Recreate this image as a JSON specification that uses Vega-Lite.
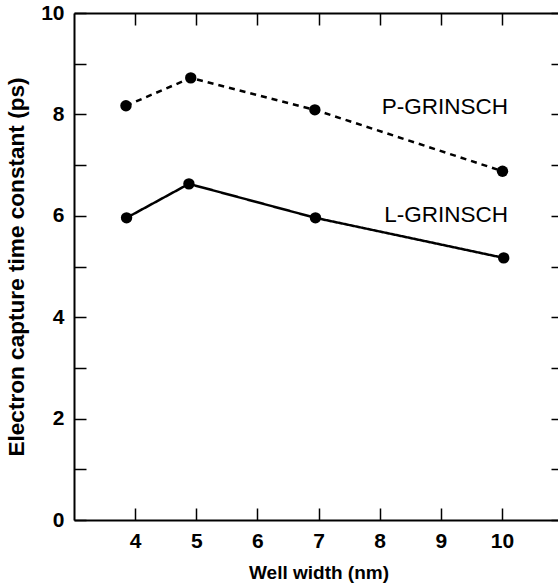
{
  "$schema": "https://vega.github.io/schema/vega-lite/v6.json",
  "width": 489,
  "height": 507,
  "autosize": "none",
  "padding": {"left": 74, "top": 13, "right": 0, "bottom": 67},
  "background": "white",
  "config": {
    "view": {"stroke": null},
    "font": "Liberation Sans",
    "axis": {
      "domainColor": "black",
      "domainWidth": 2,
      "tickColor": "black",
      "tickWidth": 1.5,
      "tickSize": -12,
      "grid": false,
      "labelFont": "Liberation Sans",
      "labelFontSize": 21,
      "labelColor": "black",
      "labelFontWeight": "bold",
      "titleFont": "Liberation Sans",
      "titleColor": "black",
      "titleFontWeight": "bold"
    }
  },
  "datasets": {
    "pts": [
      {"series": "P-GRINSCH", "width": 3.85, "tau": 8.17},
      {"series": "P-GRINSCH", "width": 4.91, "tau": 8.72},
      {"series": "P-GRINSCH", "width": 6.94, "tau": 8.09},
      {"series": "P-GRINSCH", "width": 10.01, "tau": 6.88},
      {"series": "L-GRINSCH", "width": 3.86, "tau": 5.96},
      {"series": "L-GRINSCH", "width": 4.88, "tau": 6.63},
      {"series": "L-GRINSCH", "width": 6.95, "tau": 5.96},
      {"series": "L-GRINSCH", "width": 10.03, "tau": 5.17}
    ],
    "labels": [
      {"name": "P-GRINSCH", "width": 10.1, "tau": 8.15},
      {"name": "L-GRINSCH", "width": 10.1, "tau": 6.02}
    ]
  },
  "resolve": {"axis": {"x": "independent", "y": "independent"}},
  "layer": [
    {
      "data": {"name": "pts"},
      "mark": {"type": "line", "color": "black", "strokeWidth": 2.5},
      "encoding": {
        "x": {
          "field": "width", "type": "quantitative",
          "scale": {"domain": [3, 11], "nice": false, "zero": false},
          "axis": {
            "orient": "bottom",
            "values": [4, 5, 6, 7, 8, 9, 10],
            "labelPadding": 22,
            "title": "Well width (nm)",
            "titleFontSize": 19,
            "titlePadding": 12
          }
        },
        "y": {
          "field": "tau", "type": "quantitative",
          "scale": {"domain": [0, 10], "nice": false},
          "axis": {
            "orient": "left",
            "values": [0, 1, 2, 3, 4, 5, 6, 7, 8, 9, 10],
            "labelExpr": "datum.value % 2 == 0 ? datum.label : ''",
            "labelPadding": 22,
            "title": "Electron capture time constant (ps)",
            "titleFontSize": 22.6,
            "titlePadding": 12
          }
        },
        "detail": {"field": "series"},
        "strokeDash": {
          "field": "series", "type": "nominal",
          "scale": {"domain": ["L-GRINSCH", "P-GRINSCH"], "range": [[1, 0], [6, 5]]},
          "legend": null
        }
      }
    },
    {
      "data": {"name": "pts"},
      "mark": {"type": "point", "filled": true, "color": "black", "opacity": 1, "size": 130},
      "encoding": {
        "x": {
          "field": "width", "type": "quantitative",
          "axis": {"orient": "top", "values": [4, 5, 6, 7, 8, 9, 10], "labels": false, "title": null}
        },
        "y": {
          "field": "tau", "type": "quantitative",
          "axis": {"orient": "right", "values": [0, 1, 2, 3, 4, 5, 6, 7, 8, 9, 10], "labels": false, "title": null}
        }
      }
    },
    {
      "data": {"name": "labels"},
      "mark": {"type": "text", "align": "right", "baseline": "middle", "font": "Liberation Sans", "fontSize": 22.5, "color": "black"},
      "encoding": {
        "x": {"field": "width", "type": "quantitative", "axis": null},
        "y": {"field": "tau", "type": "quantitative", "axis": null},
        "text": {"field": "name"}
      }
    }
  ]
}
